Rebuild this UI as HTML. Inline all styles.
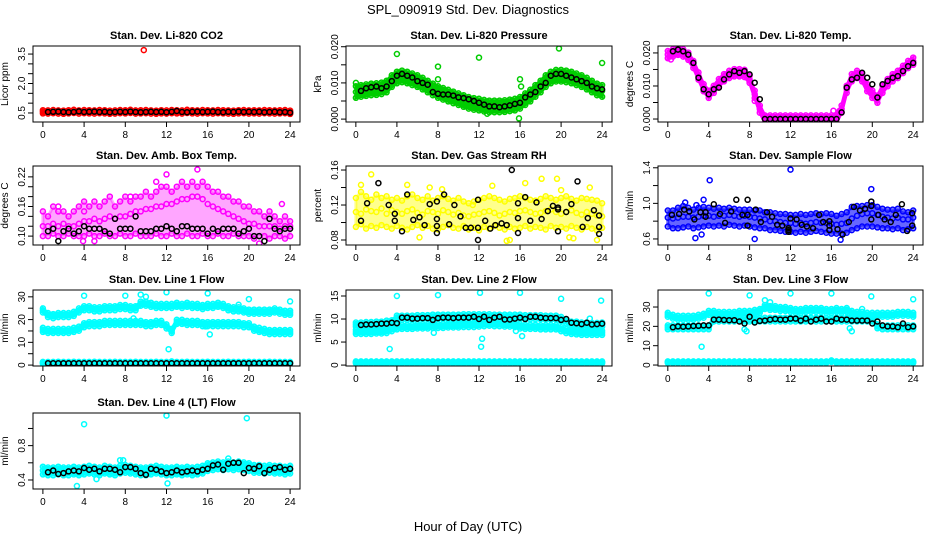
<!DOCTYPE html>
<html><head><meta charset="utf-8"><title>SPL_090919 Std. Dev. Diagnostics</title>
<style>html,body{margin:0;padding:0;background:#fff}svg{display:block}text{font-family:"Liberation Sans",Arial,sans-serif}</style>
</head><body>
<svg id="chart" width="936" height="540" viewBox="0 0 936 540" xmlns="http://www.w3.org/2000/svg">
<text x="468" y="14" text-anchor="middle" font-size="13">SPL_090919  Std. Dev. Diagnostics</text>
<text x="468" y="531" text-anchor="middle" font-size="13">Hour of Day (UTC)</text>
</svg>
<script>
const hours=[0,0.5,1,1.5,2,2.5,3,3.5,4,4.5,5,5.5,6,6.5,7,7.5,8,8.5,9,9.5,10,10.5,11,11.5,12,12.5,13,13.5,14,14.5,15,15.5,16,16.5,17,17.5,18,18.5,19,19.5,20,20.5,21,21.5,22,22.5,23,23.5,24];
const xTicks=[0,4,8,12,16,20,24];
// P1 CO2
const co2Mid=[0.56,0.55,0.57,0.55,0.54,0.56,0.58,0.55,0.57,0.56,0.55,0.57,0.56,0.54,0.55,0.57,0.56,0.58,0.55,0.56,0.57,0.55,0.54,0.56,0.55,0.57,0.56,0.55,0.58,0.56,0.55,0.57,0.56,0.55,0.57,0.56,0.55,0.54,0.56,0.57,0.55,0.56,0.55,0.57,0.56,0.55,0.56,0.57,0.54];
const co2Spread=0.08;
const co2Black=[null,0.55,0.56,0.57,0.55,0.54,0.55,0.58,0.55,0.56,0.57,0.55,0.56,0.54,0.55,0.56,0.55,0.57,0.55,0.54,0.55,0.56,0.55,0.56,0.54,0.56,0.6,0.55,0.54,0.56,0.57,0.55,0.56,0.57,0.55,0.54,0.56,0.55,0.57,0.55,0.56,0.55,0.56,0.54,0.55,0.56,0.54,0.55,0.52];
const co2OutX=[9.8,24];
const co2OutY=[3.7,0.45];
// P2 Pressure
const presMid=[.0075,.0078,.008,.0082,.0083,.0085,.009,.0105,.0115,.0118,.0115,.011,.0105,.0098,.009,.0082,.0075,.007,.0065,.006,.0055,.005,.0045,.0042,.004,.0037,.0035,.0035,.0035,.0036,.0038,.004,.0045,.0055,.0065,.0078,.009,.0105,.0115,.012,.012,.0118,.0115,.011,.0105,.0098,.009,.0082,.0078];
const presSpread=0.0016;
const presBlack=[null,.0078,.0085,.0088,.009,.0085,.009,.0105,.012,.0125,.012,.0115,.0105,.01,.0095,.0075,.007,.0068,.0068,.0065,.006,.0058,.0055,.005,.0045,.004,.0035,.0035,.0033,.0035,.0038,.0042,.0045,.006,.0068,.0075,.009,.01,.012,.0125,.0125,.012,.0115,.011,.0105,.01,.009,.0085,.0082];
const presOutX=[0,4,8,8,12,15.9,16,16.1,19.8,24,12.8];
const presOutY=[.010,.018,.0145,.011,.017,.0002,.011,.009,.0195,.0155,.0015];
// P3 Temp
const tempMid=[.0195,.020,.0205,.020,.019,.0165,.013,.0095,.0075,.009,.011,.0125,.0135,.014,.014,.0138,.012,.0075,.003,0,0,0,0,0,0,0,0,0,0,0,0,0,0,0,.003,.009,.0125,.0135,.0125,.0095,.0075,.006,.009,.011,.0125,.0135,.015,.0165,.0175];
const tempSpread=0.0011;
const tempBlack=[null,.0205,.021,.0205,.0195,.017,.0125,.009,.0075,.009,.0095,.012,.0135,.0145,.014,.0145,.0135,.011,.006,0,0,0,0,0,0,0,0,0,0,0,0,0,0,0,.002,.0095,.012,.0125,.014,.0125,.0105,.0065,.0105,.0115,.0125,.013,.0145,.016,.017];
const tempOutX=[16.2,16.8,8.5,0.3];
const tempOutY=[.0025,.0025,.0055,.018];
// P4 Amb box temp
const ambLo=[.10,.10,.105,.10,.10,.105,.10,.10,.10,.105,.10,.10,.105,.10,.10,.105,.10,.10,.105,.10,.10,.10,.105,.10,.10,.105,.10,.10,.105,.10,.10,.105,.10,.10,.105,.10,.10,.105,.10,.10,.10,.095,.10,.10,.095,.10,.10,.095,.10];
const ambMid=[.12,.12,.125,.12,.125,.12,.12,.125,.13,.13,.135,.13,.135,.14,.135,.14,.14,.145,.15,.15,.155,.155,.16,.16,.165,.165,.17,.175,.175,.18,.18,.175,.165,.16,.155,.15,.145,.14,.135,.13,.125,.125,.12,.12,.12,.12,.115,.12,.12];
const ambHi=[.15,.14,.16,.15,.15,.14,.15,.16,.17,.16,.17,.16,.17,.18,.16,.17,.18,.17,.18,.18,.19,.18,.19,.20,.20,.19,.20,.21,.20,.21,.20,.21,.20,.19,.19,.18,.18,.17,.17,.16,.16,.15,.15,.14,.15,.14,.13,.14,.13];
const ambBlack=[null,.11,.115,.09,.11,.115,.105,.11,.12,.115,.115,.115,.11,.105,.135,.115,.115,.115,.14,.11,.11,.11,.115,.115,.12,.115,.11,.12,.12,.115,.115,.115,.105,.115,.11,.115,.115,.115,.105,.11,.115,.10,.10,.09,.135,.115,.11,.115,.115];
const ambOutX=[1.5,11,12,15,8.5,23.2,3.9,4,5,21];
const ambOutY=[.16,.21,.225,.235,.18,.165,.09,.15,.09,.085];
// P5 RH
const rhLo=[.095,.098,.093,.096,.094,.097,.095,.093,.096,.094,.092,.095,.097,.094,.096,.093,.092,.095,.097,.094,.093,.096,.092,.094,.091,.095,.093,.096,.094,.092,.095,.093,.094,.096,.093,.095,.094,.092,.096,.094,.095,.093,.096,.094,.092,.095,.093,.091,.094];
const rhMid=[.112,.11,.115,.113,.112,.116,.11,.114,.112,.11,.113,.115,.111,.109,.113,.112,.11,.114,.112,.109,.111,.108,.107,.109,.11,.112,.113,.111,.108,.11,.112,.111,.113,.114,.112,.11,.111,.113,.115,.112,.11,.112,.114,.111,.109,.112,.11,.108,.107];
const rhHi=[.128,.135,.13,.126,.132,.128,.13,.126,.128,.125,.13,.132,.128,.126,.13,.125,.128,.13,.127,.125,.128,.124,.122,.124,.126,.128,.13,.128,.126,.124,.127,.128,.13,.128,.126,.125,.127,.13,.128,.126,.128,.13,.127,.125,.128,.127,.126,.125,.122];
const rhBlackX=[0.5,1.1,2.2,3.2,3.8,3.8,4.5,5,5.6,6.2,6.7,7.2,7.9,7.9,7.9,7.9,8.6,9.1,9.6,10.2,10.7,11.2,11.9,11.9,11.9,12.6,13.1,13.6,14.2,14.7,15.2,15.8,15.8,15.8,16.5,17,17.6,18.1,18.7,19.2,19.7,19.7,19.7,20.5,21,21.6,22.1,22.6,23.2,23.7,23.7,23.7];
const rhBlackY=[.102,.122,.145,.12,.11,.102,.09,.132,.103,.106,.097,.121,.124,.104,.096,.088,.132,.098,.12,.107,.094,.094,.126,.094,.08,.102,.093,.097,.099,.097,.16,.122,.105,.088,.129,.102,.123,.104,.113,.119,.115,.117,.09,.112,.121,.147,.095,.105,.114,.108,.095,.087];
const rhOutX=[1.5,0.5,5,7.2,8.4,11.4,13.3,15,16.5,18.1,19.6,20,20.8,21.2,22.8,23.5,14.7,6.2];
const rhOutY=[.155,.143,.143,.14,.138,.12,.142,.08,.145,.15,.15,.137,.083,.082,.14,.08,.079,.083];
// P6 Sample flow
const flowLo=[.74,.72,.72,.73,.74,.72,.73,.74,.75,.74,.75,.74,.76,.75,.74,.75,.74,.73,.72,.72,.70,.70,.69,.68,.68,.67,.68,.67,.68,.69,.68,.67,.66,.66,.66,.67,.70,.72,.74,.74,.74,.73,.72,.72,.71,.72,.70,.71,.72];
const flowMid=[.84,.83,.84,.85,.85,.84,.85,.86,.86,.85,.86,.86,.87,.86,.85,.86,.85,.84,.83,.82,.80,.80,.79,.78,.78,.77,.78,.77,.78,.79,.78,.78,.77,.76,.77,.78,.83,.86,.88,.89,.89,.87,.85,.84,.83,.84,.82,.82,.84];
const flowHi=[.92,.92,.95,.97,.95,.93,.95,.96,.95,.94,.95,.94,.95,.94,.93,.93,.93,.92,.92,.90,.90,.89,.88,.88,.87,.87,.88,.87,.88,.89,.88,.89,.88,.86,.88,.90,.96,.97,.97,.98,.98,.96,.94,.93,.93,.94,.91,.90,.92];
const flowBlackX=[0.4,1.1,1.6,2.1,2.6,3.2,3.7,3.7,4.5,5.1,5.6,6.2,6.7,7.3,7.8,7.8,7.8,8.6,9.1,9.7,10.2,10.7,11.2,11.8,11.8,11.8,12,12.6,13.1,13.6,14.2,14.8,15.2,15.8,15.8,15.8,16.6,17.1,17.7,18.2,18.8,19.3,19.9,19.9,19.9,20.6,21.2,21.8,22.3,22.9,23.4,23.9,23.9];
const flowBlackY=[.87,.88,.93,.91,.82,.90,.90,.85,.99,.88,.78,.91,1.04,.87,1.04,.87,.75,.93,.79,.90,.85,.76,.75,.72,.70,.68,.83,.82,.76,.74,.72,.87,.79,.80,.75,.70,.71,.65,.79,.96,.92,.94,1.02,.97,.82,.87,.82,.79,.87,.99,.69,.89,.75];
const flowOutX=[4.1,12,19.9,2.7,8.5,3.3,16.9,1.7,3.5,2.8];
const flowOutY=[1.26,1.38,1.16,.61,.60,.65,.59,1.01,1.04,.98];
// P7 Line 1
const l1Top=[24,22,21.5,22,22,22,22.5,24,25,25,24.5,24.5,25,25,25,25.5,25.5,25,25,27,27,26.5,26,26,26,26,26.5,26,26.5,26,26,25.5,26,26,26.5,26,25,24.5,24.5,24,23.5,23.5,23.5,23.5,23.5,24,23.5,23,23];
const l1Mid=[15.5,15,15,15,15,15,15.5,16,17.5,18,18,18,18.5,18.5,18.5,18.5,18.5,18.5,18.5,18.5,18,18,18.5,18.5,17,15,19,19,18.5,18.5,18.5,18,18,18,18,18,18,18,18,17.5,17.5,16,15.5,15,14.5,14.5,14.5,14.5,14.5];
const l1Bot=[1.0,1.0,1.0,1.1,1.0,1.0,1.1,1.0,1.0,1.0,1.1,1.0,1.0,1.0,1.1,1.0,1.0,1.0,1.1,1.0,1.0,1.0,1.1,1.0,1.0,1.2,1.0,1.0,1.1,1.0,1.0,1.0,1.1,1.0,1.0,1.0,1.1,1.0,1.0,1.0,1.1,1.0,1.0,1.0,1.1,1.0,1.0,1.0,1.0];
const l1Spread=0.9;
const l1Black=[null,0.8,0.8,0.8,0.8,0.8,0.8,0.8,0.8,0.8,0.8,0.8,0.8,0.8,0.8,0.8,0.8,0.8,0.8,0.8,0.8,0.8,0.8,0.8,0.8,0.8,0.8,0.8,0.8,0.8,0.8,0.8,0.8,0.8,0.8,0.8,0.8,0.8,0.8,0.8,0.8,0.8,0.8,0.8,0.8,0.8,0.8,0.8,0.8];
const l1OutX=[4,8,9.5,10,12,16,16.2,12.2,20,19,24,8.8,15.8];
const l1OutY=[30.5,30.5,31,30,32,31.5,13.5,7,29,26.5,28,20.5,17];
// P8 Line 2
const l2Top=[8.8,8.8,8.9,8.9,9,9,9.2,9.3,10.3,10.3,10.3,10.3,10.4,10.4,10.4,10.5,10.5,10.5,10.5,10.5,10.5,10.6,10.6,10.6,10.6,10.6,10.6,10.5,10.5,10.5,10.5,10.5,10.5,10.4,10.4,10.4,10.4,10.3,10.3,10.3,10,9.5,9,9,8.8,8.8,8.7,8.7,8.8];
const l2Mid=[7.2,7.2,7.2,7.2,7.3,7.3,7.4,7.8,8.2,8.3,8.3,8.3,8.4,8.4,8.4,8.5,8.5,8.5,8.6,8.6,8.6,8.7,8.7,8.7,8.8,8.9,9,8.9,8.9,8.8,8.8,8.7,8.4,8.3,8.3,8.3,8.2,8.2,8.2,8.2,7.8,7.4,7.2,7.1,7,7,7,7,7];
const l2Bot=[0.6,0.6,0.6,0.6,0.6,0.6,0.6,0.6,0.6,0.6,0.6,0.6,0.6,0.6,0.6,0.6,0.6,0.6,0.6,0.6,0.6,0.6,0.6,0.6,0.6,0.6,0.6,0.6,0.6,0.6,0.6,0.6,0.6,0.6,0.6,0.6,0.6,0.6,0.6,0.6,0.6,0.6,0.6,0.6,0.6,0.6,0.6,0.6,0.6];
const l2Spread=0.45;
const l2Black=[null,8.7,8.8,8.8,8.9,9,9,9.2,9.1,10.3,10.3,10.1,10.1,10.2,10.2,9.8,10.2,10.3,10.3,10.2,10.3,10.3,10.3,10.5,10,10.5,9.8,10.3,10.5,9.9,9.9,10.1,10.3,10,10.5,10.5,10.3,10.2,10.2,10.2,9.8,10,9.2,9.1,8.9,9.2,8.8,8.9,9];
const l2OutX=[3.3,4,7.6,8,12.1,12.2,12.3,16,16.2,15.6,20,23.9,22.8];
const l2OutY=[3.5,15,7,15.2,15.7,4,5.7,15.7,6.3,7.4,14.4,14,10.1];
// P9 Line 3
const l3Top=[26,25,24.5,24.5,24.5,24.5,25,25.5,27,27,26.5,26.5,26.5,26.5,27,27,27,27.5,28,30,29.5,29.5,29,29,28.5,28,28,28.5,28.5,28.5,28.5,28,28,28.5,28,28.5,27,26.5,26.5,26,26,26,26,26,26,26.5,26.5,26.5,26];
const l3Mid=[19.5,19.5,19.5,19.5,19.5,19.5,19.5,19.5,19.5,23.5,23.5,23.5,23.5,23.5,23.5,23.5,23.5,23.5,23.5,23.5,23.5,23.5,23.5,23.5,23.5,23.5,23.5,23.5,23.5,23.5,23.5,23.5,23.5,23.5,23.5,23.5,23.5,23.5,23.5,23.5,23.5,20,19.5,19.5,19.5,19.5,19.5,19.5,19.5];
const l3Bot=[1.5,1.5,1.5,1.5,1.5,1.5,1.5,1.5,1.5,1.5,1.5,1.5,1.5,1.5,1.5,1.5,1.5,1.5,1.5,1.5,1.5,1.5,1.5,1.5,1.5,1.5,1.5,1.5,1.5,1.5,1.5,1.5,2,1.5,1.5,1.5,1.5,1.5,1.5,1.5,1.5,1.5,1.5,1.5,1.5,1.5,1.5,1.5,1.5];
const l3Spread=1.0;
const l3Black=[null,19.5,20,19.8,20,20.2,20.3,20.5,20.5,23.5,23.5,23.3,23.2,23.2,22.5,21.5,25,22,22.8,23,23.5,23.8,23.5,23.5,24,24,23,24,22.5,23.5,24,22.5,22.5,24,23.5,23.5,23,23,23,23,21.5,22.5,20.5,20,20,19.5,21.5,19.5,20];
const l3OutX=[4,8,12,16,19.9,24,3.3,9.5,10,7.5,7.7,17.8,18,19];
const l3OutY=[37,36,37,37,35.5,34,9.5,33.5,32.5,18.5,17.5,19,17.5,29];
// P10 Line 4 (LT)
const l4Mid=[.51,.5,.5,.51,.5,.5,.51,.5,.51,.52,.51,.5,.52,.51,.5,.52,.53,.52,.51,.5,.5,.51,.52,.51,.5,.5,.51,.5,.51,.5,.51,.52,.55,.56,.57,.56,.57,.56,.57,.56,.55,.53,.53,.52,.53,.52,.52,.51,.52];
const l4Spread=0.045;
const l4Black=[null,.49,.51,.47,.48,.5,.51,.5,.54,.52,.53,.5,.53,.53,.52,.49,.55,.55,.53,.48,.46,.53,.52,.5,.48,.49,.51,.49,.5,.51,.5,.52,.53,.57,.58,.52,.59,.6,.6,.48,.54,.53,.56,.48,.52,.54,.55,.52,.53];
const l4OutX=[4,12,19.8,3.3,12.1,5.2,7.5,18,7.8];
const l4OutY=[1.05,1.15,1.12,.33,.36,.41,.63,.65,.63];

const svg=document.getElementById('chart');
const NS='http://www.w3.org/2000/svg';
const colsX=[[33,300],[346,612],[658,923]];
const rowsY=[[46,122],[166,245],[290,366],[413,489]];
function mk(tag,attrs,parent){const e=document.createElementNS(NS,tag);for(const k in attrs)e.setAttribute(k,attrs[k]);parent.appendChild(e);return e;}

const panels=[
 {key:'co2',title:'Stan. Dev. Li-820 CO2',ylab:'Licor ppm',c:0,r:0,ymin:0.04,ymax:3.91,ticks:[0.5,1,1.5,2,2.5,3,3.5],labels:{0.5:'0.5',2:'2.0',3.5:'3.5'},color:'#ff0000',
  bands:[{mid:co2Mid,sp:co2Spread}],black:{y:co2Black},out:{x:co2OutX,y:co2OutY}},
 {key:'pressure',title:'Stan. Dev. Li-820 Pressure',ylab:'kPa',c:1,r:0,ymin:-0.0008,ymax:0.0202,ticks:[0,0.005,0.01,0.015,0.02],labels:{0:'0.000',0.01:'0.010',0.02:'0.020'},color:'#00cd00',
  bands:[{mid:presMid,sp:presSpread}],black:{y:presBlack},out:{x:presOutX,y:presOutY}},
 {key:'temp',title:'Stan. Dev. Li-820 Temp.',ylab:'degrees C',c:2,r:0,ymin:-0.0009,ymax:0.0221,ticks:[0,0.005,0.01,0.015,0.02],labels:{0:'0.000',0.01:'0.010',0.02:'0.020'},color:'#ff00ff',
  bands:[{mid:tempMid,sp:tempSpread}],black:{y:tempBlack},out:{x:tempOutX,y:tempOutY}},
 {key:'amb-box-temp',title:'Stan. Dev. Amb. Box Temp.',ylab:'degrees C',c:0,r:1,ymin:0.082,ymax:0.242,ticks:[0.1,0.12,0.14,0.16,0.18,0.2,0.22],labels:{0.1:'0.10',0.16:'0.16',0.22:'0.22'},color:'#ff00ff',
  bands:[{lo:ambLo,mid:ambMid,hi:ambHi,op:0.35}],black:{y:ambBlack},out:{x:ambOutX,y:ambOutY}},
 {key:'gas-stream-rh',title:'Stan. Dev. Gas Stream RH',ylab:'percent',c:1,r:1,ymin:0.0743,ymax:0.1646,ticks:[0.08,0.1,0.12,0.14,0.16],labels:{0.08:'0.08',0.12:'0.12',0.16:'0.16'},color:'#ffff00',
  bands:[{lo:rhLo,mid:rhMid,hi:rhHi,op:0.45}],black:{x:rhBlackX,y:rhBlackY},out:{x:rhOutX,y:rhOutY}},
 {key:'sample-flow',title:'Stan. Dev. Sample Flow',ylab:'ml/min',c:2,r:1,ymin:0.532,ymax:1.42,ticks:[0.6,0.8,1.0,1.2,1.4],labels:{0.6:'0.6',1:'1.0',1.4:'1.4'},color:'#0000ff',
  bands:[{lo:flowLo,mid:flowMid,hi:flowHi,op:0.6}],black:{x:flowBlackX,y:flowBlackY},out:{x:flowOutX,y:flowOutY}},
 {key:'line1-flow',title:'Stan. Dev. Line 1 Flow',ylab:'ml/min',c:0,r:2,ymin:-0.4,ymax:33,ticks:[0,5,10,15,20,25,30],labels:{0:'0',10:'10',20:'20',30:'30'},color:'#00ffff',
  bands:[{mid:l1Top,sp:l1Spread},{mid:l1Mid,sp:l1Spread},{mid:l1Bot,sp:0.4}],black:{y:l1Black},out:{x:l1OutX,y:l1OutY}},
 {key:'line2-flow',title:'Stan. Dev. Line 2 Flow',ylab:'ml/min',c:1,r:2,ymin:-0.2,ymax:16.3,ticks:[0,5,10,15],labels:{0:'0',5:'5',10:'10',15:'15'},color:'#00ffff',
  bands:[{mid:l2Top,sp:l2Spread},{mid:l2Mid,sp:l2Spread},{mid:l2Bot,sp:0.2}],black:{y:l2Black},out:{x:l2OutX,y:l2OutY}},
 {key:'line3-flow',title:'Stan. Dev. Line 3 Flow',ylab:'ml/min',c:2,r:2,ymin:-0.5,ymax:38.8,ticks:[0,10,20,30],labels:{0:'0',10:'10',20:'20',30:'30'},color:'#00ffff',
  bands:[{mid:l3Top,sp:l3Spread},{mid:l3Mid,sp:l3Spread},{mid:l3Bot,sp:0.4}],black:{y:l3Black},out:{x:l3OutX,y:l3OutY}},
 {key:'line4-lt-flow',title:'Stan. Dev. Line 4 (LT) Flow',ylab:'ml/min',c:0,r:3,ymin:0.295,ymax:1.18,ticks:[0.4,0.6,0.8,1.0],labels:{0.4:'0.4',0.8:'0.8'},color:'#00ffff',
  bands:[{mid:l4Mid,sp:l4Spread}],black:{y:l4Black},out:{x:l4OutX,y:l4OutY}}
];

panels.forEach((p,pi)=>{
  const [x0,x1]=colsX[p.c],[y0,y1]=rowsY[p.r];
  const xs=h=>x0+(h+0.96)/25.92*(x1-x0);
  const ys=v=>y1-(v-p.ymin)/(p.ymax-p.ymin)*(y1-y0);
  const g=mk('g',{},svg);
  
  
  const cp=mk('clipPath',{id:'clip'+pi},g);
  mk('rect',{x:x0,y:y0,width:x1-x0,height:y1-y0},cp);
  const plot=mk('g',{'clip-path':'url(#clip'+pi+')'},g);
  
  
  const dot=(h,v,col,name)=>{const c=mk('circle',{cx:xs(h).toFixed(1),cy:ys(v).toFixed(1),r:2.5,fill:'none',stroke:col,'stroke-width':1.5},plot);
    
    };
  p.bands.forEach((b,bi)=>{
    const n=Math.min(hours.length,b.mid.length);
    const lo=[],hi=[];
    for(let i=0;i<n;i++){lo.push(b.lo?b.lo[i]:b.mid[i]-b.sp);hi.push(b.hi?b.hi[i]:b.mid[i]+b.sp);}
    let pts=[];
    for(let i=0;i<n;i++)pts.push(xs(hours[i]).toFixed(1)+','+ys(hi[i]).toFixed(1));
    for(let i=n-1;i>=0;i--)pts.push(xs(hours[i]).toFixed(1)+','+ys(lo[i]).toFixed(1));
    const poly=mk('polygon',{points:pts.join(' '),fill:p.color,'fill-opacity':b.op||1,stroke:p.color,'stroke-width':3,'stroke-opacity':b.op||1},plot);
    
    
    for(let i=0;i<n;i++){dot(hours[i],lo[i],p.color,'point-'+p.key);dot(hours[i],b.mid[i],p.color,'point-'+p.key);dot(hours[i],hi[i],p.color,'point-'+p.key);}
  });
  for(let i=0;i<p.out.x.length;i++)dot(p.out.x[i],p.out.y[i],p.color,'outlier-'+p.key);
  const bx=p.black.x||hours;
  for(let i=0;i<p.black.y.length;i++){if(p.black.y[i]==null)continue;dot(bx[i],p.black.y[i],'#000','hourly-point-'+p.key);}
  const box=mk('rect',{x:x0,y:y0,width:x1-x0,height:y1-y0,fill:'none',stroke:'#000','stroke-width':1},g);
  
  
  const t=mk('text',{x:(x0+x1)/2,y:y0-7,'text-anchor':'middle','font-size':11,'font-weight':'bold'},g);
  t.textContent=p.title;
  
  
  const yl=mk('text',{x:0,y:0,'text-anchor':'middle','font-size':10,transform:'translate('+(x0-25)+','+((y0+y1)/2)+') rotate(-90)'},g);
  yl.textContent=p.ylab;
  
  
  xTicks.forEach(h=>{
    const X=xs(h);
    mk('line',{x1:X,x2:X,y1:y1,y2:y1+5,stroke:'#000'},g);
    const tx=mk('text',{x:X,y:y1+16,'text-anchor':'middle','font-size':10},g);
    tx.textContent=String(h);
    
    
  });
  p.ticks.forEach(v=>{
    const Y=ys(v);
    mk('line',{x1:x0-5,x2:x0,y1:Y,y2:Y,stroke:'#000'},g);
    const lab=p.labels[v];
    if(lab!==undefined){
      const ty=mk('text',{x:0,y:0,'text-anchor':'middle','font-size':10,transform:'translate('+(x0-8)+','+Y+') rotate(-90)'},g);
      ty.textContent=lab;
      
      
    }
  });
});
</script>
</body></html>
